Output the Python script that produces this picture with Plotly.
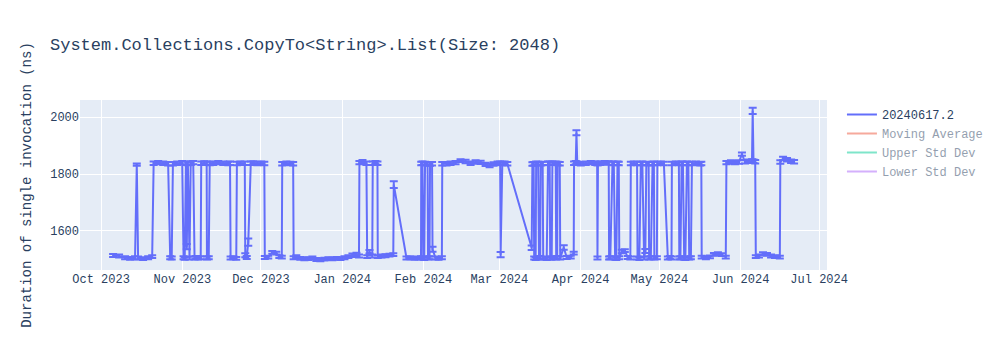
import pandas as pd
import plotly.graph_objects as go

title_text = "System.Collections.CopyTo<String>.List(Size: 2048)"
y_title = "Duration of single invocation (ns)"
series_name = "20240617.2"

timestamps = [
    # Oct 2023
    "2023-10-05 14:00", "2023-10-07 21:00", "2023-10-10 04:00", "2023-10-12 02:00", "2023-10-13 23:00",
    "2023-10-14 15:00", "2023-10-15 03:00", "2023-10-17 01:00", "2023-10-18 23:00", "2023-10-20 12:00",
    "2023-10-21 01:30", "2023-10-22 19:00", "2023-10-24 17:00", "2023-10-26 14:00", "2023-10-27 09:00",
    "2023-10-27 23:00", "2023-10-28 10:00", "2023-10-30 01:00", "2023-10-31 23:00",
    # Nov 2023
    "2023-11-01 11:00", "2023-11-01 22:00", "2023-11-02 09:00", "2023-11-02 17:00", "2023-11-03 03:00",
    "2023-11-03 18:00", "2023-11-04 05:00", "2023-11-05 04:00", "2023-11-05 16:00", "2023-11-06 07:00",
    "2023-11-07 02:00", "2023-11-08 00:30", "2023-11-08 05:00", "2023-11-09 09:00", "2023-11-10 07:00",
    "2023-11-10 09:30", "2023-11-11 02:00", "2023-11-11 11:00", "2023-11-12 19:00", "2023-11-14 17:00",
    "2023-11-16 15:00", "2023-11-18 13:00", "2023-11-19 05:00", "2023-11-19 10:00", "2023-11-20 11:00",
    "2023-11-21 14:00", "2023-11-21 20:00", "2023-11-23 03:00", "2023-11-24 20:00", "2023-11-25 00:30",
    "2023-11-25 14:00", "2023-11-26 04:00", "2023-11-27 03:00", "2023-11-28 02:00", "2023-11-29 15:00",
    # Dec 2023
    "2023-12-01 03:00", "2023-12-02 07:00", "2023-12-02 11:30", "2023-12-03 19:00", "2023-12-05 08:00",
    "2023-12-06 21:00", "2023-12-08 00:30", "2023-12-08 23:00", "2023-12-09 03:00", "2023-12-10 17:00",
    "2023-12-12 05:00", "2023-12-13 07:00", "2023-12-13 11:30", "2023-12-14 12:00", "2023-12-16 01:00",
    "2023-12-17 14:00", "2023-12-19 02:00", "2023-12-20 15:00", "2023-12-22 04:00", "2023-12-23 16:00",
    "2023-12-25 05:00", "2023-12-26 18:00", "2023-12-28 06:00", "2023-12-29 19:00", "2023-12-31 08:00",
    # Jan 2024
    "2024-01-01 21:00", "2024-01-03 09:00", "2024-01-04 22:00", "2024-01-06 11:00", "2024-01-07 10:00",
    "2024-01-07 14:00", "2024-01-08 18:00", "2024-01-10 06:00", "2024-01-10 13:00", "2024-01-11 10:00",
    "2024-01-12 11:30", "2024-01-12 16:00", "2024-01-13 17:00", "2024-01-14 11:00", "2024-01-14 14:00",
    "2024-01-16 00:00", "2024-01-17 12:30", "2024-01-19 01:00", "2024-01-20 12:00", "2024-01-20 16:30",
    "2024-01-25 13:00", "2024-01-27 02:00", "2024-01-28 14:00", "2024-01-30 03:00", "2024-01-31 02:00",
    "2024-01-31 04:00", "2024-01-31 16:00", "2024-01-31 22:00",
    # Feb 2024
    "2024-02-01 07:30", "2024-02-01 15:00", "2024-02-02 14:00", "2024-02-02 18:00", "2024-02-03 08:00",
    "2024-02-03 12:30", "2024-02-04 07:00", "2024-02-04 11:30", "2024-02-05 15:00", "2024-02-06 18:30",
    "2024-02-08 01:00", "2024-02-08 04:30", "2024-02-09 20:00", "2024-02-11 08:30", "2024-02-13 06:30",
    "2024-02-15 04:00", "2024-02-17 02:00", "2024-02-19 00:00", "2024-02-20 22:00", "2024-02-22 20:00",
    "2024-02-24 17:30", "2024-02-26 06:00", "2024-02-27 19:00", "2024-02-29 07:30",
    # Mar 2024
    "2024-03-01 06:30", "2024-03-01 11:00", "2024-03-02 02:30", "2024-03-02 23:30", "2024-03-04 00:30",
    "2024-03-13 07:30", "2024-03-13 14:00", "2024-03-14 01:30", "2024-03-14 06:30", "2024-03-14 20:00",
    "2024-03-15 00:30", "2024-03-15 19:00", "2024-03-16 02:30", "2024-03-16 13:30", "2024-03-16 18:00",
    "2024-03-17 12:00", "2024-03-17 17:00", "2024-03-19 01:00", "2024-03-19 13:00", "2024-03-20 04:30",
    "2024-03-20 09:00", "2024-03-20 23:00", "2024-03-21 05:00", "2024-03-22 11:30", "2024-03-22 16:00",
    "2024-03-23 01:00", "2024-03-23 05:00", "2024-03-24 00:30", "2024-03-24 05:00", "2024-03-25 13:00",
    "2024-03-26 16:30", "2024-03-28 05:00", "2024-03-29 08:30", "2024-03-29 11:30", "2024-03-30 03:00",
    "2024-03-30 09:30", "2024-03-30 17:00",
    # Apr 2024
    "2024-04-01 01:00", "2024-04-02 22:30", "2024-04-04 20:30", "2024-04-06 13:30", "2024-04-07 07:00",
    "2024-04-07 10:00", "2024-04-07 14:30", "2024-04-08 16:00", "2024-04-10 05:00", "2024-04-11 17:00",
    "2024-04-11 20:30", "2024-04-12 07:30", "2024-04-13 03:30", "2024-04-13 15:30", "2024-04-14 03:30",
    "2024-04-14 14:30", "2024-04-15 01:30", "2024-04-15 13:00", "2024-04-15 18:00", "2024-04-16 17:00",
    "2024-04-17 20:30", "2024-04-19 00:00", "2024-04-19 23:00", "2024-04-20 03:30", "2024-04-21 07:00",
    "2024-04-22 12:30", "2024-04-22 17:00", "2024-04-23 09:30", "2024-04-23 23:00", "2024-04-24 13:00",
    "2024-04-25 05:00", "2024-04-25 16:30", "2024-04-26 01:30", "2024-04-26 22:30", "2024-04-27 03:00",
    "2024-04-27 18:30", "2024-04-28 10:30", "2024-04-28 22:30", "2024-04-29 03:00", "2024-04-30 02:00",
    "2024-04-30 06:30",
    # May 2024
    "2024-05-01 14:30", "2024-05-02 18:00", "2024-05-04 06:30", "2024-05-05 01:00", "2024-05-05 16:00",
    "2024-05-05 19:30", "2024-05-07 08:00", "2024-05-08 11:30", "2024-05-08 15:30", "2024-05-09 01:30",
    "2024-05-09 12:30", "2024-05-10 00:30", "2024-05-10 12:00", "2024-05-10 23:00", "2024-05-11 13:00",
    "2024-05-12 02:30", "2024-05-12 10:00", "2024-05-13 01:30", "2024-05-13 11:00", "2024-05-14 23:30",
    "2024-05-16 12:00", "2024-05-17 01:00", "2024-05-17 04:30", "2024-05-18 19:00", "2024-05-20 08:00",
    "2024-05-21 20:30", "2024-05-23 09:00", "2024-05-24 22:00", "2024-05-26 09:00", "2024-05-26 15:00",
    "2024-05-28 08:30", "2024-05-29 21:00", "2024-05-31 10:00",
    # Jun 2024
    "2024-06-01 13:00", "2024-06-02 17:00", "2024-06-04 05:30", "2024-06-05 09:00", "2024-06-05 15:30",
    "2024-06-05 23:00", "2024-06-06 14:30", "2024-06-06 20:00", "2024-06-08 01:00", "2024-06-09 14:00",
    "2024-06-11 02:30", "2024-06-12 15:30", "2024-06-14 04:00", "2024-06-16 00:00", "2024-06-16 04:30",
    "2024-06-17 05:30", "2024-06-18 18:00", "2024-06-20 07:00", "2024-06-21 10:30",
]

durations = [
    # Oct 2023
    1514, 1512, 1506, 1504, 1506,
    1833, 1505, 1503, 1506, 1510,
    1838, 1840, 1838, 1836, 1506,
    1505, 1836, 1838, 1840,
    # Nov 2023
    1506, 1504, 1838, 1545, 1837,
    1505, 1838, 1840, 1505, 1507,
    1505, 1506, 1838, 1839, 1838,
    1505, 1506, 1837, 1838, 1840,
    1838, 1837, 1838, 1505, 1506,
    1504, 1837, 1838, 1838, 1515,
    1507, 1561, 1838, 1839, 1837,
    # Dec 2023
    1838, 1837, 1507, 1508, 1525,
    1522, 1510, 1508, 1836, 1838,
    1837, 1836, 1506, 1510, 1504,
    1502, 1503, 1505, 1500, 1499,
    1501, 1503, 1502, 1504, 1503,
    # Jan 2024
    1506, 1510, 1515, 1518, 1512,
    1840, 1843, 1838, 1510, 1527,
    1512, 1838, 1840, 1838, 1510,
    1512, 1513, 1515, 1517, 1763,
    1505, 1506, 1504, 1505, 1506,
    1837, 1838, 1505,
    # Feb 2024
    1503, 1837, 1836, 1505, 1506,
    1835, 1836, 1536, 1505, 1504,
    1506, 1836, 1836, 1838, 1840,
    1847, 1844, 1838, 1842, 1841,
    1834, 1830, 1835, 1838,
    # Mar 2024
    1838, 1517, 1837, 1838, 1836,
    1541, 1835, 1836, 1505, 1503,
    1838, 1837, 1505, 1507, 1836,
    1837, 1505, 1503, 1838, 1838,
    1506, 1504, 1838, 1838, 1505,
    1507, 1837, 1836, 1505, 1542,
    1507, 1508, 1522, 1838, 1840,
    1945, 1838,
    # Apr 2024
    1836, 1838, 1840, 1838, 1837,
    1505, 1837, 1838, 1840, 1839,
    1505, 1506, 1838, 1837, 1505,
    1503, 1838, 1837, 1506, 1528,
    1531, 1507, 1505, 1837, 1838,
    1837, 1505, 1503, 1837, 1838,
    1505, 1530, 1837, 1836, 1505,
    1506, 1837, 1838, 1505, 1506,
    1837,
    # May 2024
    1838, 1837, 1505, 1507, 1505,
    1837, 1838, 1837, 1505, 1506,
    1838, 1837, 1505, 1503, 1838,
    1837, 1505, 1506, 1837, 1838,
    1836, 1837, 1508, 1506, 1509,
    1518, 1520, 1517, 1508, 1840,
    1842, 1840, 1842,
    # Jun 2024
    1870, 1843, 1845, 1846, 2022,
    1845, 1843, 1510, 1512, 1520,
    1518, 1512, 1510, 1508, 1842,
    1855, 1850, 1845, 1843,
]

errors = [
    # Oct 2023
    5, 5, 5, 5, 5,
    4, 5, 5, 5, 5,
    6, 6, 6, 6, 5,
    5, 6, 6, 6,
    # Nov 2023
    5, 5, 6, 9, 6,
    5, 6, 6, 5, 5,
    5, 5, 6, 6, 6,
    5, 5, 6, 6, 6,
    6, 6, 6, 5, 5,
    5, 6, 6, 6, 7,
    5, 13, 6, 6, 6,
    # Dec 2023
    6, 6, 5, 5, 5,
    5, 5, 5, 6, 6,
    6, 6, 5, 5, 5,
    5, 5, 5, 5, 5,
    5, 5, 5, 5, 5,
    # Jan 2024
    5, 5, 6, 6, 5,
    6, 6, 6, 5, 6,
    5, 6, 6, 6, 5,
    5, 5, 5, 5, 12,
    5, 5, 5, 5, 5,
    6, 6, 5,
    # Feb 2024
    5, 6, 6, 5, 5,
    6, 6, 9, 5, 5,
    5, 6, 6, 6, 6,
    5, 6, 6, 6, 6,
    6, 6, 6, 6,
    # Mar 2024
    6, 9, 6, 6, 6,
    8, 6, 6, 5, 5,
    6, 6, 5, 5, 6,
    6, 5, 5, 6, 6,
    5, 5, 6, 6, 5,
    5, 6, 6, 5, 8,
    5, 5, 5, 6, 6,
    9, 6,
    # Apr 2024
    6, 6, 6, 6, 6,
    5, 6, 6, 6, 6,
    5, 5, 6, 6, 5,
    5, 6, 6, 5, 6,
    5, 5, 5, 6, 6,
    6, 5, 5, 6, 6,
    5, 7, 6, 6, 5,
    5, 6, 6, 5, 5,
    6,
    # May 2024
    6, 6, 5, 5, 5,
    6, 6, 6, 5, 5,
    6, 6, 5, 5, 6,
    6, 5, 5, 6, 6,
    6, 6, 5, 5, 5,
    5, 5, 5, 5, 6,
    6, 6, 6,
    # Jun 2024
    6, 6, 6, 6, 11,
    6, 6, 5, 5, 5,
    5, 5, 5, 5, 6,
    6, 6, 6, 6,
]

x_range = ["2023-09-22 23:00", "2024-07-04 00:00"]
y_range = [1463, 2060]

df = pd.DataFrame({"t": pd.to_datetime(timestamps), "v": durations, "e": errors})
moving_avg = df["v"].rolling(window=10, min_periods=1).mean()
moving_std = df["v"].rolling(window=10, min_periods=1).std().fillna(0)

font_family = "Courier New, Liberation Mono, monospace"

fig = go.Figure()
fig.add_trace(go.Scatter(
    x=df["t"], y=df["v"], mode="lines", name=series_name,
    line=dict(color="#636efa", width=2),
    error_y=dict(type="data", array=df["e"], visible=True, color="#636efa", thickness=2, width=4),
))
fig.add_trace(go.Scatter(x=df["t"], y=moving_avg, mode="lines", name="Moving Average",
                         line=dict(color="#EF553B"), visible="legendonly"))
fig.add_trace(go.Scatter(x=df["t"], y=moving_avg + moving_std, mode="lines", name="Upper Std Dev",
                         line=dict(color="#00cc96"), visible="legendonly"))
fig.add_trace(go.Scatter(x=df["t"], y=moving_avg - moving_std, mode="lines", name="Lower Std Dev",
                         line=dict(color="#ab63fa"), visible="legendonly"))

fig.update_layout(
    width=1000, height=350,
    template="plotly",
    font=dict(family=font_family),
    title=dict(text=title_text),
    yaxis=dict(title=dict(text=y_title), range=y_range),
    xaxis=dict(range=x_range),
)

fig.write_html("out.html")
